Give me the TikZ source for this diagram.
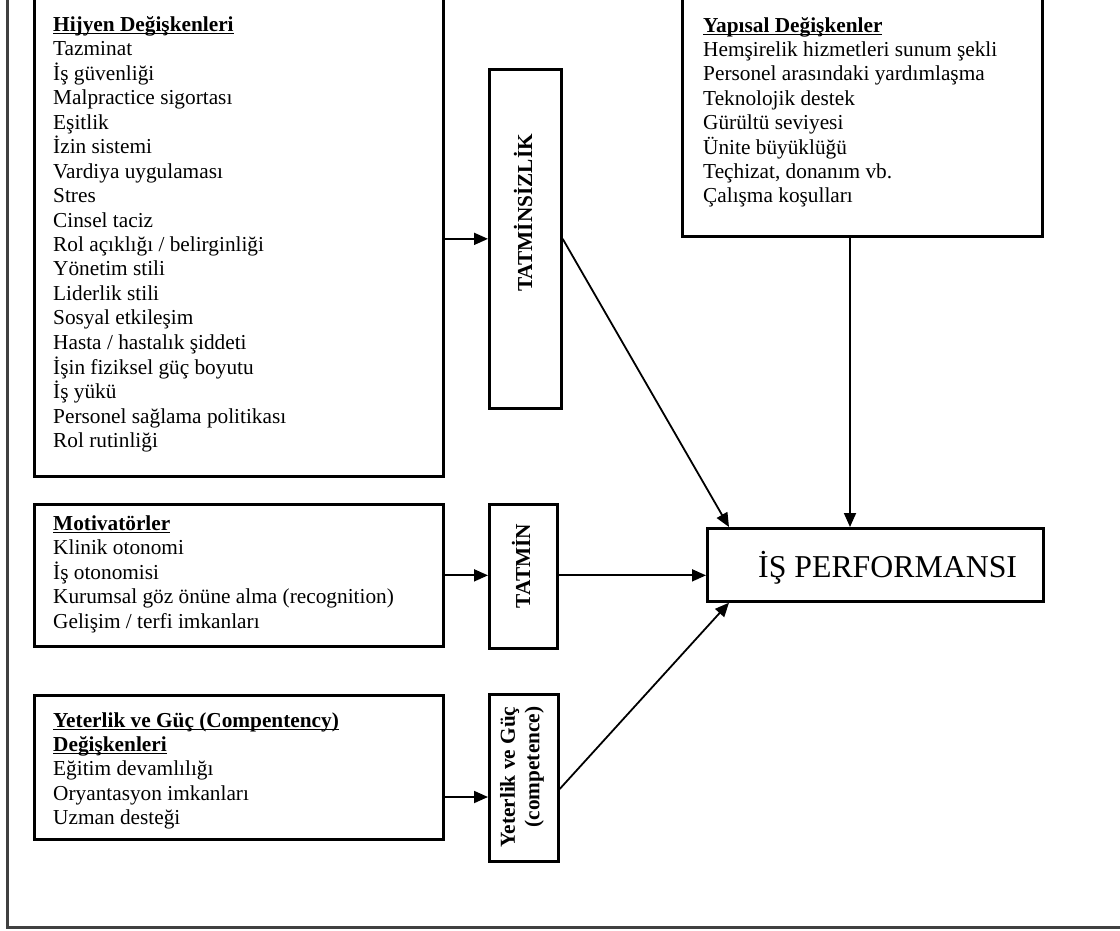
\documentclass[tikz,border=0pt]{standalone}
\usepackage{fontspec}
\setmainfont{Liberation Serif}
\usetikzlibrary{arrows.meta,calc}
\newcommand{\myul}[1]{\setbox0\hbox{#1}\rlap{\rule[-3pt]{\wd0}{1.3pt}}\box0}
\begin{document}
\begin{tikzpicture}[x=1pt,y=1pt,
  box/.style={draw=black,line width=2.7pt,inner sep=0pt,anchor=north west},
  txt/.style={anchor=base west,inner sep=0pt,font=\fontsize{21.3}{24.4}\selectfont},
  rot/.style={rotate=90,inner sep=0pt,font=\fontsize{21.3}{24.4}\selectfont\bfseries},
  arr/.style={-{Triangle[length=14pt,width=12pt]},line width=1.8pt},
  frame/.style={draw=black!75,line width=3pt}]
\useasboundingbox (0,0) rectangle (1120,-930);
\clip (0,0) rectangle (1120,-930);
% outer frame
\draw[frame] (7,20) -- (7,-927) -- (1140,-927);
% boxes
\node[box,anchor=south west,minimum width=409pt,minimum height=500pt] (hij) at (33,-478) {};
\node[box,minimum width=72pt,minimum height=339pt] (tsz) at (488,-68) {};
\node[box,anchor=south west,minimum width=360pt,minimum height=260pt] (yap) at (681,-238) {};
\node[box,minimum width=336pt,minimum height=73pt] (isp) at (706,-527) {};
\node[box,minimum width=409pt,minimum height=142pt] (mot) at (33,-503) {};
\node[box,minimum width=68pt,minimum height=144pt] (tat) at (488,-503) {};
\node[box,minimum width=409pt,minimum height=144pt] (yet) at (33,-694) {};
\node[box,minimum width=69pt,minimum height=167pt] (yg) at (488,-693) {};
% texts
\node[txt] (hijt) at (53,-31) {\begin{tabular}[t]{@{}l@{}}\myul{\textbf{Hijyen Değişkenleri}}\\
Tazminat\\ İş güvenliği\\ Malpractice sigortası\\ Eşitlik\\ İzin sistemi\\ Vardiya uygulaması\\
Stres\\ Cinsel taciz\\ Rol açıklığı / belirginliği\\ Yönetim stili\\ Liderlik stili\\
Sosyal etkileşim\\ Hasta / hastalık şiddeti\\ İşin fiziksel güç boyutu\\ İş yükü\\
Personel sağlama politikası\\ Rol rutinliği\end{tabular}};
\node[txt] (yapt) at (703,-32) {\begin{tabular}[t]{@{}l@{}}\myul{\textbf{Yapısal Değişkenler}}\\
Hemşirelik hizmetleri sunum şekli\\ Personel arasındaki yardımlaşma\\ Teknolojik destek\\
Gürültü seviyesi\\ Ünite büyüklüğü\\ Teçhizat, donanım vb.\\ Çalışma koşulları\end{tabular}};
\node[txt] (mott) at (53,-530) {\begin{tabular}[t]{@{}l@{}}\myul{\textbf{Motivatörler}}\\
Klinik otonomi\\ İş otonomisi\\ Kurumsal göz önüne alma (recognition)\\ Gelişim / terfi imkanları\end{tabular}};
\node[txt] (yett) at (53,-727) {\begin{tabular}[t]{@{}l@{}}\myul{\textbf{Yeterlik ve Güç (Compentency)}}\\
\myul{\textbf{Değişkenleri}}\\ Eğitim devamlılığı\\ Oryantasyon imkanları\\ Uzman desteği\end{tabular}};
\node[rot] (tszt) at (523,-213) {TATMİNSİZLİK};
\node[rot] (tatt) at (521,-566) {TATMİN};
\node[rot,align=right] (ygt) at (522,-777) {Yeterlik ve Güç\\(competence)};
\node[anchor=base west,inner sep=0pt,font=\fontsize{31.8}{36}\selectfont] (ispt) at (758,-577) {İŞ PERFORMANSI};
% connectors
\coordinate (vx) at (850,0);
\coordinate (yh) at (0,-797);
\coordinate (yo) at (0,-789);
\draw[arr] (hij.east |- tsz.west) -- (tsz.west);
\draw[arr] (tsz.east) -- ($(isp.north west)+(23,0)$);
\draw[arr] (yap.south -| vx) -- (isp.north -| vx);
\draw[arr] (mot.east) -- (tat.west |- mot.east);
\draw[arr] (tat.east |- mot.east) -- (isp.west |- mot.east);
\draw[arr] (yet.east |- yh) -- (yg.west |- yh);
\draw[arr] (yg.east |- yo) -- ($(isp.south west)+(23,0)$);
\end{tikzpicture}
\end{document}
